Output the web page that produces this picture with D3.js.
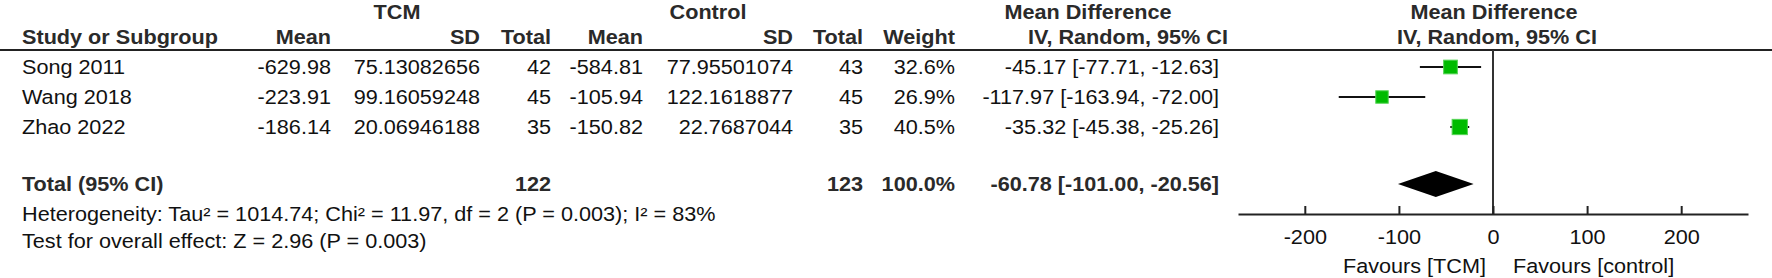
<!DOCTYPE html>
<html>
<head>
<meta charset="utf-8">
<script src="https://cdn.jsdelivr.net/npm/d3@7"></script>
<style>
  html, body { margin: 0; padding: 0; background: #fff; }
  svg { display: block; font-family: "Liberation Sans", Arial, Helvetica, sans-serif; }
</style>
</head>
<body>
<svg id="chart" width="1772" height="278"></svg>
<script>
// ---- Study data ----
const studies   = ["Song 2011", "Wang 2018", "Zhao 2022"];
const tcmMean   = [-629.98, -223.91, -186.14];
const tcmSD     = ["75.13082656", "99.16059248", "20.06946188"];
const tcmN      = [42, 45, 35];
const ctlMean   = [-584.81, -105.94, -150.82];
const ctlSD     = ["77.95501074", "122.1618877", "22.7687044"];
const ctlN      = [43, 45, 35];
const weights   = [32.6, 26.9, 40.5];
const mdValue   = [-45.17, -117.97, -35.32];
const mdLow     = [-77.71, -163.94, -45.38];
const mdHigh    = [-12.63, -72.00, -25.26];

// ---- Pooled estimate ----
const totalN      = [122, 123];
const pooledMD    = [-60.78, -101.00, -20.56];   // estimate, lower, upper
const heteroText  = "Heterogeneity: Tau\u00B2 = 1014.74; Chi\u00B2 = 11.97, df = 2 (P = 0.003); I\u00B2 = 83%";
const overallText = "Test for overall effect: Z = 2.96 (P = 0.003)";

// ---- Axis ----
const axisTicks    = [-200, -100, 0, 100, 200];
const favourLabels = ["Favours [TCM]", "Favours [control]"];

// ---- Layout ----
const FS = 19.5, SX = 1.11;
const svg = d3.select("#chart");
const fmt2 = v => v.toFixed(2);               // plain hyphen-minus, as printed in the table
const ciText = (m, l, h) => `${fmt2(m)} [${fmt2(l)}, ${fmt2(h)}]`;

const x = d3.scaleLinear().domain([-271, 271]).range([1238, 1748]);
const rowY = d3.scaleLinear().domain([0, 1]).range([67, 97]);
const totalY = 184, axisY = 214, ruleY = 50;

function label(s, px, py, anchor, bold, color) {
  return svg.append("text")
    .attr("transform", `translate(${px},${py}) scale(${SX},1)`)
    .attr("text-anchor", anchor)
    .attr("font-size", FS)
    .attr("font-weight", bold ? "bold" : "normal")
    .attr("fill", color || (bold ? "#2a2a2a" : "#111"))
    .text(s);
}

// column right edges
const col = { tMean: 331, tSD: 480, tN: 551, cMean: 643, cSD: 793, cN: 863, w: 955, ci: 1219 };

// group headers
label("TCM", 397, 19, "middle", true);
label("Control", 708, 19, "middle", true);
label("Mean Difference", 1088, 19, "middle", true);
label("Mean Difference", 1494, 19, "middle", true);

// column headers
label("Study or Subgroup", 22, 44, "start", true);
label("Mean", col.tMean, 44, "end", true);
label("SD", col.tSD, 44, "end", true);
label("Total", col.tN, 44, "end", true);
label("Mean", col.cMean, 44, "end", true);
label("SD", col.cSD, 44, "end", true);
label("Total", col.cN, 44, "end", true);
label("Weight", col.w, 44, "end", true);
label("IV, Random, 95% CI", 1228, 44, "end", true);
label("IV, Random, 95% CI", 1497, 44, "middle", true);

svg.append("line").attr("x1", 0).attr("x2", 1772).attr("y1", ruleY).attr("y2", ruleY)
  .attr("stroke", "#222").attr("stroke-width", 2);

// study rows
studies.forEach((s, i) => {
  const by = rowY(i) + 7;
  label(s, 22, by, "start", false);
  label(String(tcmMean[i]), col.tMean, by, "end", false);
  label(tcmSD[i], col.tSD, by, "end", false);
  label(String(tcmN[i]), col.tN, by, "end", false);
  label(String(ctlMean[i]), col.cMean, by, "end", false);
  label(ctlSD[i], col.cSD, by, "end", false);
  label(String(ctlN[i]), col.cN, by, "end", false);
  label(weights[i].toFixed(1) + "%", col.w, by, "end", false);
  label(ciText(mdValue[i], mdLow[i], mdHigh[i]), col.ci, by, "end", false);
});

// total row
const tb = totalY + 7;
label("Total (95% CI)", 22, tb, "start", true);
label(String(totalN[0]), col.tN, tb, "end", true);
label(String(totalN[1]), col.cN, tb, "end", true);
label("100.0%", col.w, tb, "end", true);
label(ciText(pooledMD[0], pooledMD[1], pooledMD[2]), col.ci, tb, "end", true);
label(heteroText, 22, 221, "start", false);
label(overallText, 22, 248, "start", false);

// line of no effect
svg.append("line").attr("x1", x(0)).attr("x2", x(0)).attr("y1", ruleY).attr("y2", axisY)
  .attr("stroke", "#333").attr("stroke-width", 2);

// confidence intervals and weighted squares
const plot = svg.append("g");
plot.selectAll("line.ci").data(studies).join("line").attr("class", "ci")
  .attr("x1", (d, i) => x(mdLow[i])).attr("x2", (d, i) => x(mdHigh[i]))
  .attr("y1", (d, i) => rowY(i)).attr("y2", (d, i) => rowY(i))
  .attr("stroke", "#111").attr("stroke-width", 2);
const side = w => 2.4 * Math.sqrt(w);
plot.selectAll("rect.sq").data(studies).join("rect").attr("class", "sq")
  .attr("x", (d, i) => x(mdValue[i]) - side(weights[i]) / 2)
  .attr("y", (d, i) => rowY(i) - side(weights[i]) / 2)
  .attr("width", (d, i) => side(weights[i]))
  .attr("height", (d, i) => side(weights[i]))
  .attr("fill", "#00bb00").attr("stroke", "#55d455").attr("stroke-width", 1);

// pooled diamond
const dh = 13;
plot.append("polygon")
  .attr("points", [
    [x(pooledMD[1]), totalY], [x(pooledMD[0]), totalY - dh],
    [x(pooledMD[2]), totalY], [x(pooledMD[0]), totalY + dh]
  ].map(p => p.join(",")).join(" "))
  .attr("fill", "#000");

// axis
const axisG = svg.append("g").attr("transform", `translate(0,${axisY})`)
  .call(d3.axisBottom(x).tickValues(axisTicks).tickFormat(d => String(d))
    .tickSizeInner(-8).tickSizeOuter(0));
axisG.select(".domain").attr("stroke", "#222").attr("stroke-width", 2);
axisG.selectAll(".tick line").attr("stroke", "#222").attr("stroke-width", 2);
axisG.selectAll(".tick text")
  .attr("y", 30).attr("dy", 0)
  .attr("transform", `scale(${SX},1)`)
  .attr("font-size", FS).attr("font-family", null).attr("fill", "#111");

label(favourLabels[0], x(0) - 7, 273, "end", false);
label(favourLabels[1], x(0) + 20, 273, "start", false);
</script>
</body>
</html>
